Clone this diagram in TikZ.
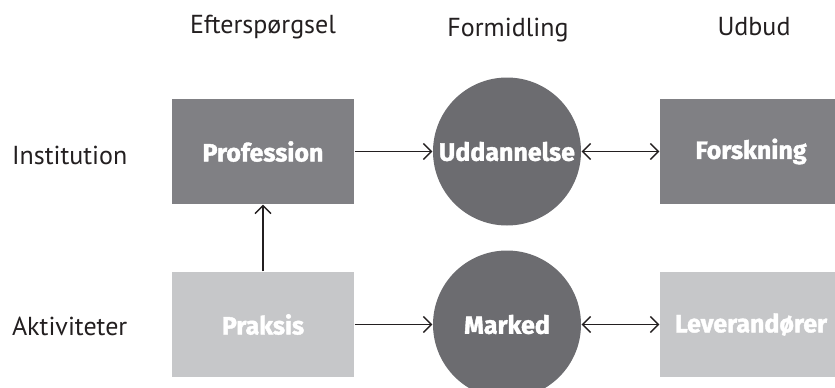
\documentclass[tikz,border=0pt]{standalone}
\usepackage{fontspec}
\setmainfont{PT Sans}
\newfontfamily\boxfont{Fira Sans}[BoldFeatures={FakeBold=1.6}]
\usetikzlibrary{positioning,arrows.meta}

\definecolor{instgray}{HTML}{808084}
\definecolor{midgray}{HTML}{6C6C70}
\definecolor{actgray}{HTML}{C6C7C9}
\definecolor{ink}{HTML}{231F20}

\tikzset{
  box/.style={rectangle, inner sep=0pt, minimum width=182pt, minimum height=105pt,
    text=white, font=\boxfont\bfseries\fontsize{25}{30}\selectfont},
  hub/.style={circle, inner sep=0pt, minimum size=148pt, fill=midgray,
    text=white, font=\boxfont\bfseries\fontsize{25}{30}\selectfont},
  head/.style={text=ink, font=\fontsize{26}{31}\selectfont},
}

\begin{document}
\begin{tikzpicture}[x=1pt,y=-1pt,node distance=244pt and 173pt,on grid,
    >={Straight Barb[length=8pt,width=16pt]}, line width=1.4pt, draw=ink]
   \useasboundingbox (0,0) rectangle (835,388);

   \node[box, fill=instgray] (profession) at (263,151.5) {Profession};
   \node[hub]                (uddannelse) [right=244pt of profession] {Uddannelse};
   \node[box, fill=instgray] (forskning)  [right=244pt of uddannelse] {Forskning};

   \node[box, fill=actgray]  (praksis)    [below=173pt of profession] {Praksis};
   \node[hub]                (marked)     [right=244pt of praksis]    {Marked};
   \node[box, fill=actgray]  (leverandorer) [right=244pt of marked]   {Leverandører};

   % column and row headings
   \node[head] (eftersp) at (263,27)  {Efterspørgsel};
   \node[head] (formidl) at (508,30)  {Formidling};
   \node[head] (udbud)   at (754,27)  {Udbud};
   \node[head, anchor=west] (instit) at (8,155) {Institution};
   \node[head, anchor=west] (aktiv)  at (8,326) {Aktiviteter};

    \path[->, draw=ink]
    (profession) edge (uddannelse)
    (praksis)    edge (marked)
    (praksis)    edge (profession);

    \path[<->, draw=ink]
    (uddannelse) edge (forskning)
    (marked)     edge (leverandorer);
\end{tikzpicture}
\end{document}
